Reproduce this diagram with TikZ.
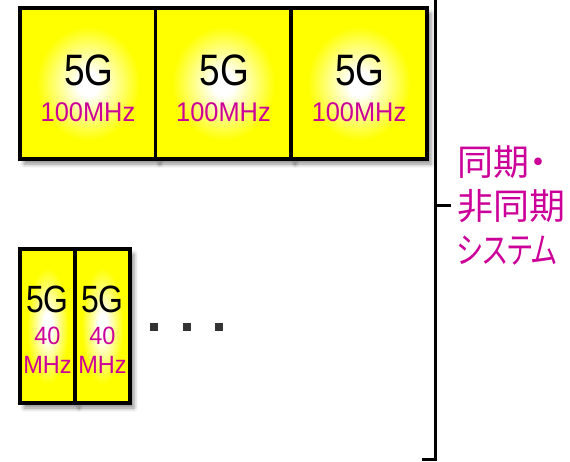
\documentclass[tikz,border=0pt]{standalone}
\usepackage{fontspec}
\newfontfamily\lat{Liberation Sans}[FakeStretch=0.84]
\newfontfamily\latm{Liberation Sans}[FakeStretch=0.94]
\newfontfamily\cjk{Noto Sans CJK JP}[RawFeature=+palt]
\newfontfamily\cjkn{Noto Sans CJK JP}[RawFeature=+palt, FakeStretch=0.76]
\usetikzlibrary{calc,shadows.blur}
\definecolor{mag}{RGB}{204,0,153}
\definecolor{dotgray}{RGB}{51,51,51}
\pgfdeclareradialshading{glow}{\pgfpoint{0bp}{0bp}}{color(0bp)=(white); color(4bp)=(white); color(19bp)=(yellow); color(50bp)=(yellow)}
\tikzset{
  band/.style={draw=black, line width=3.5pt, shading=glow, inner sep=0pt,
    blur shadow={shadow xshift=4pt, shadow yshift=-5pt, shadow blur radius=4pt, shadow opacity=45}},
  bigband/.style={band, minimum width=136pt, minimum height=151pt},
  smallband/.style={band, minimum width=55pt, minimum height=154pt},
  bigG/.style={anchor=base, inner sep=0pt, font=\lat\fontsize{44}{44}\selectfont},
  bigMHz/.style={anchor=base, inner sep=0pt, text=mag, font=\latm\fontsize{27}{27}\selectfont},
  smallG/.style={anchor=base, inner sep=0pt, font=\lat\fontsize{38}{38}\selectfont},
  smallMHz/.style={anchor=base, inner sep=0pt, text=mag, font=\latm\fontsize{25}{25}\selectfont},
  dotsq/.style={fill=dotgray, minimum size=8pt, inner sep=0pt},
  bracket/.style={draw=black, line width=3pt},
}
\begin{document}
\begin{tikzpicture}[x=1pt,y=-1pt]
\useasboundingbox (0,0) rectangle (570,461);
\clip (0,0) rectangle (570,461);
% top row
\node[bigband] (b1) at (88,83.5) {};
\node[bigband] (b2) at (223.5,83.5) {};
\node[bigband] (b3) at (359,83.5) {};
\foreach \b in {b1,b2,b3}{
  \node[bigG] at ($(\b.center)+(1,1.5)$) {5G};
  \node[bigMHz] at ($(\b.center)+(0,37.5)$) {100MHz};
}
% small row
\node[smallband] (s1) at (47.5,326) {};
\node[smallband] (s2) at (102.5,326) {};
\foreach \b in {s1,s2}{
  \node[smallG] at ($(\b.center)+(0,-14)$) {5G};
  \node[smallMHz] at ($(\b.center)+(0,18)$) {40};
  \node[smallMHz] at ($(\b.center)+(0,47)$) {MHz};
}
% dots
\node[dotsq] (d1) at (154,327) {};
\node[dotsq] (d2) at (187,327) {};
\node[dotsq] (d3) at (219,327) {};
% bracket
\coordinate (bt) at (435,-5);
\coordinate (bm) at (435,205);
\coordinate (bb) at (435,459);
\coordinate (be) at (422,459);
\coordinate (bx) at (451,205);
\draw[bracket] (bt) -- (bb) -- (be);
\draw[bracket] (bm) -- (bx);
\node[anchor=west, text=mag, align=left, inner sep=0pt, font=\cjk\fontsize{36}{44}\selectfont] (lbl) at (457,205) {同期・\\非同期\\{\cjkn システム}};
\end{tikzpicture}
\end{document}
